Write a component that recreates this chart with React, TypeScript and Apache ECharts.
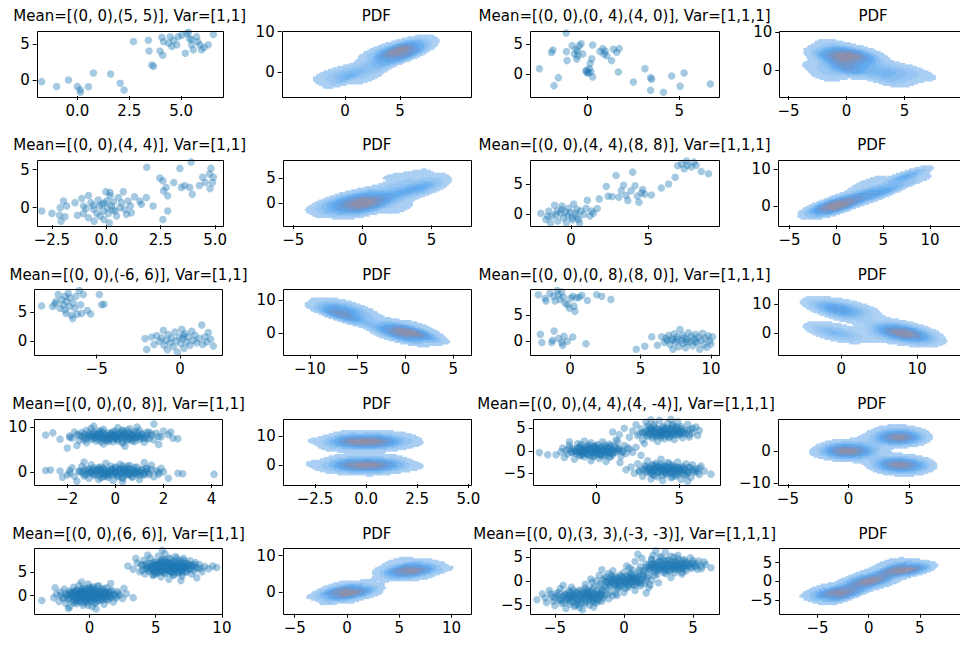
import React, { useEffect, useRef } from "react";
import * as echarts from "echarts";

// ---------------- titles ----------------
const titles = [
  "Mean=[(0, 0),(5, 5)], Var=[1,1]", "PDF", "Mean=[(0, 0),(0, 4),(4, 0)], Var=[1,1,1]", "PDF",
  "Mean=[(0, 0),(4, 4)], Var=[1,1]", "PDF", "Mean=[(0, 0),(4, 4),(8, 8)], Var=[1,1,1]", "PDF",
  "Mean=[(0, 0),(-6, 6)], Var=[1,1]", "PDF", "Mean=[(0, 0),(0, 8),(8, 0)], Var=[1,1,1]", "PDF",
  "Mean=[(0, 0),(0, 8)], Var=[1,1]", "PDF", "Mean=[(0, 0),(4, 4),(4, -4)], Var=[1,1,1]", "PDF",
  "Mean=[(0, 0),(6, 6)], Var=[1,1]", "PDF", "Mean=[(0, 0),(3, 3),(-3, -3)], Var=[1,1,1]", "PDF",
];

// ---------------- sample points ----------------
const r1c1Low = [[-1.72,-0.23],[-1.0,-0.9],[-0.43,0.0],[0.0,-0.9],[0.13,-1.35],[0.15,-1.7],[0.53,-0.93],[0.77,0.97],[1.6,0.83],[2.06,-0.46],[2.25,-1.4]];
const r1c1High = [[2.7,5.32],[3.42,5.5],[3.45,4.0],[3.58,2.07],[3.67,1.9],[4.07,5.9],[4.15,5.3],[3.98,4.0],[4.11,3.42],[4.47,5.97],[4.63,5.5],[4.79,4.86],[5.03,6.2],[5.27,6.4],[5.4,5.7],[5.5,4.86],[5.58,4.17],[5.2,3.7],[5.74,6.0],[5.9,4.86],[5.98,4.17],[6.3,4.86],[6.55,6.3],[4.86,6.0],[4.4,5.1],[4.55,4.63],[5.5,5.6],[5.8,5.3],[6.1,4.5],[5.35,6.6]];

const r1c3Points = [[-2.64,0.95],[-1.98,3.67],[-1.9,4.05],[-1.84,-1.89],[-1.6,-0.55],[-1.18,6.9],[-1.16,3.8],[-1.13,2.3],[-0.85,4.8],[-0.73,3.4],[-0.64,4.2],[-0.55,3.1],[-0.46,4.8],[-0.36,5.1],[-0.55,3.9],[-0.27,3.4],[-0.6,2.55],[-0.06,0.67],[-0.02,0.2],[0.09,0.95],[0.18,0.4],[0.27,-0.45],[0.13,1.8],[0.22,2.6],[0.27,4.9],[0.67,3.8],[0.82,4.3],[0.95,3.9],[1.04,3.1],[0.89,3.4],[1.3,2.3],[1.4,4.2],[1.58,3.7],[1.72,4.3],[1.67,0.4],[2.49,-1.3],[3.12,0.95],[3.43,-0.55],[3.49,-0.8],[3.43,-2.67],[4.13,-3.0],[4.58,-0.28],[5.04,-1.97],[5.26,0.22],[6.69,-1.6],[-0.1,0.5],[0.05,0.3]];

const r2c1Low = [[-2.97,-0.44],[-2.5,-0.75],[-2.15,-1.0],[-2.12,0],[-1.97,0.88],[-1.9,-1.2],[-2.08,-1.77],[-1.82,0.22],[-1.44,0.66],[-1.33,-1.0],[-1.13,1.19],[-1.05,0.22],[-1.05,-0.75],[-0.93,-0.1],[-0.82,-1.33],[-0.71,0.66],[-0.59,-0.22],[-0.56,-1.77],[-0.44,-0.75],[-0.37,1.0],[-0.32,0.22],[-0.29,-1.1],[-0.21,0.44],[-0.14,-0.44],[-0.11,-1.55],[-0.02,2.1],[0.02,0.88],[0.05,0],[0.09,-0.75],[0.14,-2.0],[0.17,1.55],[0.24,0.22],[0.32,0.75],[0.4,-0.44],[0.47,-1.1],[0.55,1.33],[0.62,0],[0.7,0.66],[0.78,2.1],[0.85,-0.22],[0.93,-0.88],[1.0,0.88],[1.11,0.22],[1.15,-0.66],[1.3,1.44],[1.54,0.88],[1.61,0.44],[1.84,1.33],[2.15,0.22],[2.6,-1.55],[-0.82,1.6],[0.17,2.0],[-0.6,0.3],[0.3,-0.3],[-0.1,0.6]];
const r2c1High = [[1.86,5.3],[2.6,3.54],[2.63,2.2],[2.75,2.66],[2.82,1.55],[2.82,-0.44],[3.1,3.3],[3.38,5.15],[3.45,2.66],[3.6,2.9],[3.83,2.66],[3.9,6.0],[3.95,1.77],[4.28,2.9],[4.43,4.0],[4.55,3.3],[4.74,4.4],[4.81,5.15],[4.88,3.3],[4.77,2.5],[4.92,4.0],[2.46,3.9]];

const r2c3A = [[-1.95,0.17],[-1.62,-0.83],[-1.32,-1.4],[-1.21,-0.28],[-1.06,1.5],[-0.89,0.55],[-0.85,-1.1],[-0.68,0.17],[-0.58,1.39],[-0.47,-0.56],[-0.36,0.39],[-0.3,-1.39],[-0.21,-0.17],[-0.15,1.0],[-0.04,0.28],[0.06,-0.55],[0.17,1.72],[0.28,0.17],[0.38,0.83],[0.49,-0.83],[0.55,-1.4],[0.64,0.55],[0.81,0.0],[0.98,1.0],[1.06,2.33],[1.23,-0.28],[1.34,0.55],[1.45,0.17],[1.7,0.95],[1.83,2.55],[-0.98,0.0],[-1.43,0.55],[0.38,-0.39],[-0.6,0.8],[0.1,-0.9],[-1.5,-0.3]];
const r2c3B = [[2.29,4.6],[2.4,3.0],[2.67,2.95],[2.92,6.4],[3.1,2.8],[3.25,3.9],[3.4,4.8],[3.57,3.1],[3.68,2.3],[3.89,3.9],[3.99,6.95],[4.15,4.7],[4.3,3.0],[4.4,2.0],[4.57,3.56],[4.65,4.1],[4.77,3.3],[5.2,3.2]];
const r2c3C = [[5.85,4.33],[6.32,5.0],[6.74,6.1],[6.9,8.0],[7.16,8.3],[7.33,7.5],[7.54,8.1],[7.79,7.8],[7.96,8.6],[8.1,8.1],[8.43,7.05],[8.9,6.7],[7.48,8.8]];

const r3c1Upper = [[-8.3,6.12],[-7.64,6.0],[-7.44,6.9],[-7.3,8.1],[-7.2,5.7],[-7.1,7.2],[-7.0,6.3],[-6.9,7.8],[-6.84,4.8],[-6.8,6.9],[-6.7,8.3],[-6.64,6.0],[-6.6,7.5],[-6.5,4.5],[-6.44,3.9],[-6.4,6.6],[-6.3,5.7],[-6.24,7.8],[-6.16,4.65],[-6.04,8.8],[-5.96,6.3],[-5.9,4.8],[-5.8,8.1],[-5.56,5.3],[-5.36,4.7],[-4.84,8.1],[-4.7,6.3],[-4.56,6.4],[-6.9,5.4],[-7.5,6.5]];
const r3c1Lower = [[-2.1,0.42],[-2.0,-1.46],[-1.7,0.7],[-1.56,-0.6],[-1.4,0.95],[-1.24,-0.06],[-1.1,0.53],[-1.0,1.85],[-0.96,-0.76],[-0.84,0.12],[-0.76,-1.53],[-0.7,1.12],[-0.6,-0.3],[-0.5,0.53],[-0.4,-1.0],[-0.3,1.58],[-0.24,0.0],[-0.16,-1.94],[-0.04,0.7],[0.04,-0.47],[0.1,2.06],[0.16,0.4],[0.24,-1.24],[0.3,1.3],[0.4,-0.18],[0.5,0.7],[0.6,-0.76],[0.7,1.7],[0.8,0.12],[0.9,1.0],[1.0,-0.3],[1.16,0.42],[1.3,2.8],[1.36,-0.6],[1.5,0.7],[1.7,1.47],[1.84,0.3],[2.0,-0.88],[1.6,-0.18],[0.2,0.9]];

const r3c3Upper = [[-2.25,8.9],[-1.77,8.2],[-1.7,7.7],[-1.42,9.2],[-1.18,8.6],[-1.06,7.7],[-0.9,9.7],[-0.83,8.9],[-0.71,8.0],[-0.59,9.4],[-0.47,8.4],[-0.35,7.3],[-0.19,7.0],[-0.05,6.3],[0.05,8.2],[0.19,8.6],[0.28,6.7],[0.35,5.7],[0.47,8.3],[0.66,8.4],[0.83,8.8],[1.23,7.8],[1.89,8.9],[2.25,8.6],[2.9,8.0]];
const r3c3LowLeft = [[-2.1,1.3],[-2.0,-0.3],[-1.3,-0.3],[-1.23,0.13],[-1.13,1.9],[-0.59,-0.3],[-0.52,-0.84],[-0.43,0.9],[-0.19,-0.07],[0.19,0.77],[1.13,-0.52],[-0.8,0.5]];
const r3c3LowRight = [[4.7,-1.6],[5.3,-1.0],[5.8,0.8],[6.2,-0.8],[6.5,0.8],[6.7,-0.3],[6.9,0.1],[7.0,1.1],[7.1,-0.7],[7.2,0.4],[7.3,-1.6],[7.4,1.4],[7.5,-0.2],[7.6,0.8],[7.7,-1.1],[7.8,2.2],[7.9,0.1],[8.0,1.1],[8.0,-0.5],[8.1,0.6],[8.2,-1.3],[8.3,0.3],[8.4,1.6],[8.5,-0.2],[8.6,0.9],[8.7,-0.9],[8.8,0.4],[8.9,1.3],[9.0,-0.4],[9.1,0.7],[9.2,-1.6],[9.3,0.2],[9.4,1.5],[9.5,-0.7],[9.6,0.5],[9.7,-1.2],[9.8,1.0],[9.9,0.0],[10.0,-0.6],[10.1,0.8],[7.6,0.3],[8.3,-0.2],[8.9,-0.1],[7.3,0.2],[6.8,0.5]];

const r4c1Top = [[-2.9,8.3],[-2.6,8.8],[-2.3,7.4],[-2.0,5.4],[-1.9,8.1],[-1.8,7.6],[-1.7,9.0],[-1.6,8.4],[-1.5,7.1],[-1.4,8.9],[-1.3,7.8],[-1.2,9.4],[-1.2,6.6],[-1.1,8.2],[-1.0,7.3],[-1.0,9.8],[-0.9,8.6],[-0.8,7.0],[-0.8,8.0],[-0.7,9.2],[-0.6,7.6],[-0.6,8.5],[-0.5,6.3],[-0.5,9.6],[-0.4,7.9],[-0.3,8.8],[-0.3,7.2],[-0.2,8.3],[-0.1,9.1],[-0.1,6.8],[0.0,7.7],[0.0,8.6],[0.1,10.0],[0.1,7.4],[0.2,8.1],[0.3,9.3],[0.3,6.5],[0.4,7.9],[0.5,8.7],[0.5,7.1],[0.6,9.7],[0.7,8.2],[0.7,7.5],[0.8,6.9],[0.9,8.9],[1.0,7.8],[1.0,9.4],[1.1,8.4],[1.2,6.7],[1.3,7.6],[1.4,9.0],[1.5,8.2],[1.6,10.8],[1.6,7.2],[1.7,8.7],[1.9,7.9],[2.0,9.2],[2.2,8.4],[2.4,7.6],[2.6,7.5],[2.3,9.0],[1.8,6.2],[-1.6,6.0],[0.4,5.8],[-0.9,10.3],[0.9,10.1]];
const r4c1TopCore = [[-1.4,8.0],[-1.3,8.5],[-1.2,7.5],[-1.1,8.8],[-1.0,8.1],[-0.9,7.7],[-0.9,9.0],[-0.8,8.4],[-0.7,7.3],[-0.7,8.7],[-0.6,8.0],[-0.5,7.6],[-0.5,8.9],[-0.4,8.3],[-0.4,7.1],[-0.3,7.9],[-0.2,8.6],[-0.2,7.4],[-0.1,8.1],[0.0,9.2],[0.0,7.9],[0.1,8.4],[0.1,7.0],[0.2,7.7],[0.2,8.9],[0.3,8.2],[0.4,7.4],[0.4,8.6],[0.5,8.0],[0.6,7.6],[0.6,8.8],[0.7,8.3],[0.8,7.8],[0.8,9.1],[0.9,8.0],[1.0,7.3],[1.1,8.6],[1.2,7.9],[1.3,8.3],[1.4,7.5],[-1.5,8.3],[1.5,8.6],[-0.6,6.8],[0.5,9.4],[-0.1,7.5],[0.3,6.8]];
const r4c1TopCore2 = [[-1.15,8.2],[-1.05,7.9],[-0.95,8.5],[-0.85,7.6],[-0.75,8.1],[-0.65,8.6],[-0.55,7.8],[-0.45,8.4],[-0.35,7.5],[-0.25,8.0],[-0.15,8.7],[-0.05,8.2],[0.05,7.6],[0.15,8.5],[0.25,7.9],[0.35,8.8],[0.45,8.2],[0.55,7.4],[0.65,8.0],[0.75,8.6],[0.85,7.7],[0.95,8.3],[1.05,8.0],[1.15,7.6],[-0.6,9.2],[0.3,9.4],[-0.3,6.9],[0.7,7.0],[-1.3,7.2],[1.3,8.9],[1.8,8.0],[-1.9,7.8]];
const r4c1Bottom = [[-2.9,0.4],[-2.7,0.5],[-2.3,0.3],[-2.0,-0.6],[-1.9,0.4],[-1.8,1.0],[-1.7,-0.9],[-1.6,-2.0],[-1.5,0.2],[-1.4,1.3],[-1.3,-0.4],[-1.2,0.7],[-1.1,-1.3],[-1.0,0.1],[-1.0,1.7],[-0.9,-0.7],[-0.8,0.5],[-0.7,-1.6],[-0.7,1.1],[-0.6,-0.2],[-0.5,0.8],[-0.5,-1.0],[-0.4,2.0],[-0.3,0.3],[-0.3,-0.5],[-0.2,1.4],[-0.1,-1.8],[-0.1,0.6],[0.0,-0.1],[0.0,1.0],[0.1,-0.8],[0.2,0.4],[0.2,1.8],[0.3,-1.3],[0.4,0.0],[0.5,0.9],[0.5,-0.4],[0.6,1.5],[0.7,-1.1],[0.8,0.3],[0.9,-0.2],[0.9,1.2],[1.0,-1.6],[1.1,0.6],[1.2,-0.6],[1.3,0.9],[1.4,-0.1],[1.5,1.6],[1.6,-1.0],[1.7,0.4],[1.8,-0.4],[1.9,0.9],[2.0,0.1],[2.6,-0.2],[2.8,-0.3],[4.1,-0.4],[1.2,2.2],[-1.3,2.3],[0.3,-2.1],[-2.2,-1.1],[2.2,-1.3]];
const r4c1BottomCore = [[-1.4,0.0],[-1.3,0.5],[-1.2,-0.5],[-1.1,0.8],[-1.0,0.1],[-0.9,-0.3],[-0.9,1.0],[-0.8,0.4],[-0.7,-0.7],[-0.7,0.7],[-0.6,0.0],[-0.5,-0.4],[-0.5,0.9],[-0.4,0.3],[-0.4,-0.9],[-0.3,-0.1],[-0.2,0.6],[-0.2,-0.6],[-0.1,0.1],[0.0,1.2],[0.0,-0.1],[0.1,0.4],[0.1,-1.0],[0.2,-0.3],[0.2,0.9],[0.3,0.2],[0.4,-0.6],[0.4,0.6],[0.5,0.0],[0.6,-0.4],[0.6,0.8],[0.7,0.3],[0.8,-0.2],[0.8,1.1],[0.9,0.0],[1.0,-0.7],[1.1,0.6],[1.2,-0.1],[1.3,0.3],[1.4,-0.5],[-1.5,0.3],[1.5,0.6],[-0.6,-1.2],[0.5,1.4],[-0.1,-0.5],[0.3,-1.2]];
const r4c1BottomCore2 = [[-1.15,0.2],[-1.05,-0.1],[-0.95,0.5],[-0.85,-0.4],[-0.75,0.1],[-0.65,0.6],[-0.55,-0.2],[-0.45,0.4],[-0.35,-0.5],[-0.25,0.0],[-0.15,0.7],[-0.05,0.2],[0.05,-0.4],[0.15,0.5],[0.25,-0.1],[0.35,0.8],[0.45,0.2],[0.55,-0.6],[0.65,0.0],[0.75,0.6],[0.85,-0.3],[0.95,0.3],[1.05,0.0],[1.15,-0.4],[-0.6,1.2],[0.3,1.4],[-0.3,-1.1],[0.7,-1.0],[-1.3,-0.8],[1.3,0.9],[1.8,0.0],[-1.9,-0.2]];

const r4c3Center = [[-3.4,-0.4],[-2.9,-0.9],[-2.4,-0.9],[-2.1,-0.2],[-2.0,0.6],[-1.9,-1.5],[-1.8,0.1],[-1.7,-0.7],[-1.6,1.2],[-1.5,-0.3],[-1.4,0.5],[-1.3,-1.9],[-1.2,-0.1],[-1.1,1.6],[-1.0,-1.1],[-1.0,0.8],[-0.9,-0.5],[-0.8,0.3],[-0.7,2.2],[-0.7,-1.4],[-0.6,0.0],[-0.5,1.1],[-0.5,-0.8],[-0.4,0.5],[-0.3,-2.2],[-0.3,1.8],[-0.2,-0.3],[-0.1,0.9],[-0.1,-1.2],[0.0,0.2],[0.1,-0.6],[0.1,1.4],[0.2,-1.7],[0.3,0.6],[0.4,-0.1],[0.4,2.0],[0.5,-1.0],[0.6,0.9],[0.7,-0.4],[0.8,1.5],[0.8,-1.5],[0.9,0.3],[1.0,-0.8],[1.1,1.0],[1.2,-0.2],[1.3,2.1],[1.4,0.5],[1.5,-1.2],[1.6,0.0],[1.7,1.2],[1.8,-0.6],[2.0,0.4],[2.2,-0.3],[2.4,0.8],[1.2,2.4],[1.44,-2.6],[-1.6,2.0],[0.6,-2.4]];
const r4c3CenterCore = [[-1.3,0.1],[-1.2,-0.6],[-1.1,0.6],[-1.0,-0.2],[-0.9,0.9],[-0.8,-0.8],[-0.8,0.2],[-0.7,0.6],[-0.6,-0.4],[-0.5,0.3],[-0.4,-1.0],[-0.4,0.8],[-0.3,-0.1],[-0.2,0.5],[-0.1,-0.7],[0.0,0.0],[0.0,1.1],[0.1,-0.4],[0.2,0.3],[0.3,-0.9],[0.3,0.8],[0.4,0.1],[0.5,-0.5],[0.6,0.5],[0.7,-0.1],[0.8,0.9],[0.9,-0.6],[1.0,0.2],[1.1,-0.3],[1.2,0.7],[-1.4,-0.3],[1.4,0.0],[-0.2,-1.3],[0.5,1.3],[-0.9,1.4],[0.9,-1.2]];
const r4c3CenterCore2 = [[-1.0,0.3],[-0.8,-0.3],[-0.6,0.6],[-0.5,-0.7],[-0.3,0.2],[-0.2,-0.4],[0.0,0.6],[0.1,-0.1],[0.2,-0.8],[0.4,0.4],[0.5,0.0],[0.7,0.6],[0.8,-0.4],[1.0,0.0],[-1.2,-0.2],[1.3,0.4],[-0.1,1.0],[0.3,-1.1],[-0.7,-0.1],[0.6,-0.9],[1.6,-0.3],[-1.6,0.5],[1.9,0.7],[-0.4,1.3],[0.9,1.2],[-0.9,-1.0]];
const r4c3Up = [[1.0,4.2],[1.4,3.6],[1.7,5.0],[2.0,3.0],[2.2,4.4],[2.4,5.8],[2.5,3.4],[2.7,4.9],[2.8,2.4],[2.9,4.0],[3.0,6.4],[3.1,3.2],[3.2,5.3],[3.3,4.3],[3.4,2.8],[3.5,5.9],[3.5,3.7],[3.6,4.8],[3.7,2.1],[3.8,4.1],[3.8,6.8],[3.9,3.4],[4.0,5.2],[4.0,4.5],[4.1,2.7],[4.2,3.9],[4.3,6.1],[4.3,5.0],[4.4,3.2],[4.5,4.4],[4.6,5.6],[4.7,2.5],[4.7,3.8],[4.8,4.9],[4.9,6.5],[5.0,3.5],[5.0,4.2],[5.1,5.4],[5.2,2.9],[5.3,4.6],[5.4,3.8],[5.5,5.9],[5.6,3.1],[5.7,4.8],[5.8,4.0],[6.0,5.3],[6.1,3.4],[6.2,4.5],[4.5,7.0],[3.3,6.9],[2.9,1.6]];
const r4c3UpCore = [[2.8,4.1],[3.0,3.5],[3.1,4.6],[3.2,3.9],[3.3,5.0],[3.4,3.3],[3.5,4.4],[3.6,3.8],[3.7,4.9],[3.8,3.5],[3.9,4.3],[4.0,3.9],[4.0,5.5],[4.1,4.8],[4.2,3.4],[4.3,4.1],[4.4,4.7],[4.5,3.7],[4.6,4.2],[4.7,5.2],[4.8,3.6],[4.9,4.5],[5.0,4.0],[5.1,4.9],[5.2,3.8],[3.5,5.5],[4.4,2.9],[3.9,3.0],[4.6,5.8],[3.1,5.6]];
const r4c3UpCore2 = [[3.0,4.2],[3.2,3.6],[3.4,4.5],[3.5,4.0],[3.7,3.6],[3.8,4.6],[3.9,4.1],[4.0,3.5],[4.1,4.4],[4.2,5.0],[4.3,3.8],[4.4,4.3],[4.5,4.9],[4.6,3.5],[4.7,4.0],[4.8,4.6],[5.0,3.8],[5.1,4.4],[5.3,4.1],[5.5,4.6],[5.6,3.6],[3.3,4.8],[4.9,5.3],[3.6,3.2],[2.6,3.8],[5.8,5.0]];
const r4c3Down = [[1.8,-4.2],[2.1,-3.6],[2.3,-5.0],[2.5,-2.9],[2.6,-4.4],[2.8,-5.7],[2.9,-3.3],[3.0,-4.8],[3.1,-2.2],[3.2,-4.0],[3.3,-6.3],[3.4,-3.1],[3.4,-5.3],[3.5,-4.3],[3.6,-2.7],[3.7,-5.8],[3.7,-3.7],[3.8,-4.8],[3.9,-1.9],[4.0,-4.1],[4.0,-6.6],[4.1,-3.4],[4.2,-5.2],[4.2,-4.5],[4.3,-2.6],[4.4,-3.9],[4.5,-6.0],[4.5,-5.0],[4.6,-3.2],[4.7,-4.4],[4.8,-5.6],[4.9,-2.5],[4.9,-3.8],[5.0,-4.9],[5.1,-6.4],[5.2,-3.5],[5.2,-4.2],[5.3,-5.4],[5.4,-2.9],[5.5,-4.6],[5.6,-3.8],[5.7,-5.9],[5.8,-3.1],[5.9,-4.8],[6.0,-4.0],[6.2,-5.3],[6.3,-3.4],[6.5,-4.5],[6.9,-5.2],[5.5,-6.8],[2.7,-1.0]];
const r4c3DownCore = [[2.8,-4.1],[3.0,-3.5],[3.1,-4.6],[3.2,-3.9],[3.3,-5.0],[3.4,-3.3],[3.5,-4.4],[3.6,-3.8],[3.7,-4.9],[3.8,-3.5],[3.9,-4.3],[4.0,-3.9],[4.0,-5.5],[4.1,-4.8],[4.2,-3.4],[4.3,-4.1],[4.4,-4.7],[4.5,-3.7],[4.6,-4.2],[4.7,-5.2],[4.8,-3.6],[4.9,-4.5],[5.0,-4.0],[5.1,-4.9],[5.2,-3.8],[3.5,-5.5],[4.4,-2.9],[3.9,-3.0],[4.6,-5.8],[5.5,-5.0],[5.8,-4.3],[6.1,-4.7]];
const r4c3DownCore2 = [[3.0,-4.2],[3.2,-3.6],[3.4,-4.5],[3.5,-4.0],[3.7,-3.6],[3.8,-4.6],[3.9,-4.1],[4.0,-3.5],[4.1,-4.4],[4.2,-5.0],[4.3,-3.8],[4.4,-4.3],[4.5,-4.9],[4.6,-3.5],[4.7,-4.0],[4.8,-4.6],[5.0,-3.8],[5.1,-4.4],[5.3,-4.1],[5.5,-4.6],[5.6,-3.6],[3.3,-4.8],[4.9,-5.3],[3.6,-3.2],[5.9,-4.4],[6.2,-3.9],[5.4,-5.4],[2.6,-4.6]];

const r5c1Origin = [[-3.6,-1.0],[-2.7,-0.4],[-2.5,0.3],[-2.3,-1.2],[-2.2,0.8],[-2.0,-0.3],[-1.9,1.4],[-1.8,-1.6],[-1.7,0.2],[-1.6,-0.8],[-1.5,1.0],[-1.5,-2.4],[-1.4,0.5],[-1.3,-1.1],[-1.2,1.8],[-1.2,-0.1],[-1.1,0.7],[-1.0,-1.7],[-1.0,1.2],[-0.9,-0.5],[-0.8,0.3],[-0.8,2.2],[-0.7,-1.3],[-0.6,0.9],[-0.6,-0.2],[-0.5,1.6],[-0.5,-2.0],[-0.4,0.4],[-0.3,-0.8],[-0.3,1.2],[-0.2,-1.5],[-0.2,0.1],[-0.1,2.5],[-0.1,-0.4],[0.0,0.8],[0.0,-1.1],[0.1,1.5],[0.1,-0.1],[0.2,0.5],[0.2,-2.3],[0.3,-0.7],[0.3,1.9],[0.4,0.2],[0.5,-1.4],[0.5,1.0],[0.6,-0.3],[0.7,0.6],[0.7,2.1],[0.8,-1.0],[0.9,0.3],[0.9,1.4],[1.0,-0.5],[1.1,-1.8],[1.1,0.9],[1.2,0.0],[1.3,1.7],[1.4,-0.9],[1.5,0.5],[1.6,-0.2],[1.7,1.1],[1.8,-1.3],[1.9,0.3],[2.0,-0.5],[2.1,0.9],[2.3,0.1],[2.5,-0.6],[2.8,0.4],[3.3,-0.4],[2.6,1.6],[-2.6,1.7],[1.6,2.6],[-1.6,-2.7],[0.5,-2.8],[-0.6,2.9]];
const r5c1OriginCore = [[-1.6,0.2],[-1.5,-0.5],[-1.4,0.8],[-1.3,-0.1],[-1.2,0.5],[-1.1,-0.9],[-1.0,0.2],[-1.0,1.0],[-0.9,-0.4],[-0.8,0.6],[-0.8,-1.1],[-0.7,0.1],[-0.6,1.3],[-0.6,-0.6],[-0.5,0.4],[-0.4,-0.2],[-0.4,1.0],[-0.3,-1.2],[-0.2,0.3],[-0.1,-0.6],[-0.1,0.9],[0.0,0.0],[0.1,-0.9],[0.1,0.6],[0.2,-0.3],[0.3,1.2],[0.3,0.1],[0.4,-0.5],[0.5,0.7],[0.6,-1.0],[0.6,0.2],[0.7,-0.2],[0.8,0.9],[0.9,-0.6],[1.0,0.4],[1.1,-0.1],[1.2,0.8],[1.3,-0.8],[1.4,0.1],[1.5,0.6],[1.6,-0.4],[-1.8,0.5],[1.8,0.2],[-0.3,1.6],[0.4,-1.6],[-1.2,-1.5],[1.1,1.5],[-2.0,-0.6],[2.0,-0.1],[0.0,1.8],[-0.7,0.8],[0.5,-0.1],[-0.2,-0.2],[0.9,0.1]];
const r5c1OriginCore2 = [[-1.4,0.4],[-1.2,-0.3],[-1.1,0.9],[-0.9,0.0],[-0.8,-0.7],[-0.7,0.5],[-0.6,1.0],[-0.5,-0.3],[-0.4,0.6],[-0.3,-0.9],[-0.2,0.1],[-0.1,1.2],[0.0,-0.4],[0.1,0.3],[0.2,-1.1],[0.3,0.7],[0.4,-0.1],[0.5,1.1],[0.6,-0.6],[0.7,0.4],[0.8,-0.1],[0.9,0.8],[1.0,-0.9],[1.1,0.3],[1.2,-0.4],[1.3,0.6],[1.5,-0.1],[-1.7,-0.2],[-1.0,-1.2],[0.2,1.6],[-0.5,-1.5],[1.6,1.0],[-2.2,0.1],[2.2,0.5],[-0.1,-2.0],[0.6,2.0]];
const r5c1Far = [[2.9,6.3],[3.3,5.6],[3.6,6.9],[3.8,5.1],[4.0,6.4],[4.1,7.5],[4.2,4.6],[4.3,5.8],[4.4,6.9],[4.5,5.2],[4.6,7.9],[4.7,6.1],[4.8,4.3],[4.8,5.6],[4.9,7.2],[5.0,6.5],[5.1,4.9],[5.2,8.4],[5.2,5.9],[5.3,6.8],[5.4,4.0],[5.4,5.3],[5.5,7.5],[5.6,6.2],[5.7,4.7],[5.7,8.9],[5.8,5.7],[5.9,6.9],[6.0,3.5],[6.0,6.3],[6.1,5.1],[6.1,7.8],[6.2,5.9],[6.3,4.4],[6.3,7.0],[6.4,6.5],[6.5,5.4],[6.5,8.3],[6.6,6.1],[6.7,4.8],[6.8,7.4],[6.8,5.8],[6.9,6.7],[7.0,4.2],[7.0,5.3],[7.1,7.9],[7.2,6.2],[7.3,5.0],[7.4,6.9],[7.5,5.6],[7.6,7.4],[7.7,4.6],[7.8,6.3],[7.9,5.3],[8.0,7.0],[8.2,5.8],[8.3,6.6],[8.5,5.1],[8.7,6.2],[9.0,5.7],[9.3,6.3],[9.6,6.0],[5.5,9.6],[4.4,8.6],[6.9,3.2],[8.1,3.8],[3.5,7.9]];
const r5c1FarCore = [[4.4,6.2],[4.5,5.5],[4.6,6.8],[4.7,5.9],[4.8,6.5],[4.9,5.1],[5.0,6.2],[5.0,7.0],[5.1,5.6],[5.2,6.6],[5.2,4.9],[5.3,6.1],[5.4,7.3],[5.4,5.4],[5.5,6.4],[5.6,5.8],[5.6,7.0],[5.7,4.8],[5.8,6.3],[5.9,5.4],[5.9,6.9],[6.0,6.0],[6.1,5.1],[6.1,6.6],[6.2,5.7],[6.3,7.2],[6.3,6.1],[6.4,5.5],[6.5,6.7],[6.6,5.0],[6.6,6.2],[6.7,5.8],[6.8,6.9],[6.9,5.4],[7.0,6.4],[7.1,5.9],[7.2,6.8],[7.3,5.2],[7.4,6.1],[7.5,6.6],[7.6,5.6],[4.2,6.5],[7.8,6.2],[5.7,7.6],[6.4,4.4],[4.8,4.5],[7.1,7.5],[4.0,5.4],[8.0,5.9],[6.0,8.0],[5.3,6.6],[6.5,5.9],[5.8,5.9],[6.9,6.1]];
const r5c1FarCore2 = [[4.6,6.0],[4.8,5.3],[4.9,6.7],[5.1,6.0],[5.2,5.3],[5.3,7.0],[5.4,6.2],[5.5,5.0],[5.6,6.6],[5.7,5.5],[5.8,7.2],[5.9,6.1],[6.0,5.4],[6.1,6.8],[6.2,5.0],[6.3,6.4],[6.4,5.8],[6.5,7.3],[6.6,5.6],[6.7,6.5],[6.8,5.1],[6.9,6.2],[7.0,7.0],[7.1,5.6],[7.2,6.4],[7.4,5.9],[7.6,6.5],[4.3,5.7],[5.0,4.6],[6.3,4.9],[5.5,7.8],[7.0,4.8],[7.9,6.6],[3.9,6.6],[6.6,7.9],[8.4,5.8]];

const r5c3Low = [[-6.3,-3.8],[-5.9,-2.6],[-5.6,-4.4],[-5.4,-1.9],[-5.2,-3.2],[-5.0,-5.0],[-4.9,-2.5],[-4.7,-3.8],[-4.6,-1.5],[-4.5,-4.6],[-4.3,-2.9],[-4.2,-5.6],[-4.1,-3.4],[-4.0,-2.0],[-3.9,-4.1],[-3.8,-1.2],[-3.7,-3.0],[-3.6,-5.2],[-3.5,-2.4],[-3.4,-3.7],[-3.3,-4.8],[-3.2,-1.8],[-3.1,-3.1],[-3.0,-5.9],[-3.0,-2.6],[-2.9,-4.3],[-2.8,-1.4],[-2.7,-3.5],[-2.6,-2.2],[-2.5,-4.9],[-2.4,-3.0],[-2.3,-1.6],[-2.2,-3.9],[-2.1,-2.6],[-2.0,-4.5],[-1.9,-1.9],[-1.8,-3.3],[-1.7,-2.4],[-1.6,-4.1],[-1.4,-2.9],[-1.3,-1.3],[-1.1,-3.6],[-1.0,-2.2],[-0.8,-3.0],[-0.6,-2.5],[-5.7,-3.4],[-4.4,-0.8],[-2.2,-5.3],[-5.1,-4.1]];
const r5c3LowCore = [[-4.4,-3.2],[-4.2,-2.6],[-4.1,-3.8],[-4.0,-3.0],[-3.9,-2.3],[-3.8,-3.5],[-3.7,-4.2],[-3.6,-2.8],[-3.5,-3.3],[-3.4,-2.1],[-3.3,-3.9],[-3.2,-2.9],[-3.1,-4.5],[-3.0,-3.4],[-2.9,-2.4],[-2.8,-3.1],[-2.7,-4.0],[-2.6,-2.7],[-2.5,-3.6],[-2.4,-2.2],[-2.3,-3.2],[-2.2,-4.3],[-2.1,-2.8],[-2.0,-3.5],[-1.9,-2.5],[-1.8,-3.9],[-1.7,-3.0],[-1.6,-2.0],[-4.6,-3.7],[-4.8,-2.9],[-3.5,-4.9],[-2.6,-1.8],[-1.5,-3.4],[-5.0,-3.4],[-4.3,-4.4],[-3.0,-2.0]];
const r5c3LowCore2 = [[-4.3,-2.8],[-4.0,-3.6],[-3.8,-2.6],[-3.6,-3.4],[-3.4,-4.4],[-3.3,-2.5],[-3.1,-3.6],[-2.9,-2.9],[-2.8,-4.6],[-2.7,-2.1],[-2.5,-3.1],[-2.3,-2.6],[-2.2,-3.6],[-2.0,-2.9],[-1.9,-4.0],[-3.7,-1.8],[-4.5,-4.0],[-3.9,-4.7],[-2.4,-4.0],[-1.6,-2.7],[-5.3,-2.6],[-4.7,-2.3],[-3.2,-5.4],[-1.2,-2.6]];
const r5c3Mid = [[-2.8,-0.6],[-2.4,0.5],[-2.2,-1.2],[-2.0,0.1],[-1.8,1.2],[-1.7,-0.5],[-1.5,-1.8],[-1.4,0.6],[-1.3,-0.2],[-1.1,1.6],[-1.0,-1.0],[-0.9,0.3],[-0.8,2.2],[-0.7,-0.6],[-0.6,0.9],[-0.5,-1.6],[-0.4,0.0],[-0.3,1.3],[-0.2,-0.9],[-0.1,0.5],[0.0,-2.3],[0.0,1.9],[0.1,-0.3],[0.2,0.8],[0.3,-1.2],[0.4,0.2],[0.5,1.5],[0.6,-0.7],[0.7,0.6],[0.8,-1.9],[0.9,1.1],[1.0,-0.1],[1.1,2.3],[1.2,-0.9],[1.3,0.4],[1.4,1.4],[1.5,-0.4],[1.7,0.8],[1.8,-1.3],[2.0,0.2],[2.2,1.2],[2.5,-0.3],[-1.6,2.4],[1.6,-2.4],[-0.5,-2.9],[0.4,2.8]];
const r5c3MidCore = [[-1.2,0.0],[-1.1,-0.6],[-1.0,0.6],[-0.9,-0.2],[-0.8,0.9],[-0.7,-0.9],[-0.6,0.3],[-0.5,-0.4],[-0.4,0.7],[-0.3,-0.1],[-0.2,1.0],[-0.1,-0.7],[0.0,0.3],[0.1,-0.3],[0.2,1.2],[0.3,-0.9],[0.4,0.6],[0.5,-0.2],[0.6,0.9],[0.7,-0.6],[0.8,0.3],[0.9,-0.1],[1.0,1.0],[1.1,0.2],[1.2,-0.5],[-1.4,-1.1],[1.4,0.9],[-0.4,-1.4],[0.5,1.7],[-1.3,1.0]];
const r5c3MidCore2 = [[-1.0,-0.3],[-0.8,0.4],[-0.6,-0.7],[-0.4,0.2],[-0.3,-1.0],[-0.1,0.8],[0.0,-0.2],[0.2,0.4],[0.3,-0.6],[0.5,1.0],[0.6,0.0],[0.8,-0.8],[0.9,0.7],[1.1,-0.2],[1.3,1.1],[-1.5,0.3],[-1.8,-0.9],[1.6,0.1],[-0.9,1.3],[0.1,-1.5],[1.9,-0.7],[-2.3,-0.2]];
const r5c3High = [[0.2,3.2],[0.6,2.4],[0.8,4.1],[1.0,1.7],[1.2,3.0],[1.3,4.8],[1.5,2.2],[1.6,3.6],[1.8,1.2],[1.9,2.8],[2.0,4.4],[2.1,5.4],[2.2,2.0],[2.3,3.3],[2.4,1.4],[2.5,4.0],[2.6,2.6],[2.7,5.0],[2.8,3.6],[2.9,1.9],[3.0,3.0],[3.0,6.0],[3.1,4.3],[3.2,2.3],[3.3,3.6],[3.4,0.8],[3.4,5.2],[3.5,2.8],[3.6,4.0],[3.7,1.8],[3.8,3.3],[3.9,4.7],[4.0,2.5],[4.1,3.7],[4.2,1.5],[4.3,3.0],[4.4,4.3],[4.5,2.2],[4.6,3.4],[4.8,4.9],[4.9,2.7],[5.0,3.8],[5.2,3.1],[5.4,4.2],[5.6,2.6],[5.9,3.5],[6.3,2.8],[2.3,6.3],[1.0,5.6],[0.6,0.4]];
const r5c3HighCore = [[1.6,2.9],[1.8,3.4],[1.9,2.4],[2.0,3.1],[2.1,3.8],[2.2,2.6],[2.3,3.5],[2.4,2.2],[2.5,3.0],[2.6,4.1],[2.7,2.7],[2.8,3.3],[2.9,2.3],[3.0,3.8],[3.1,2.8],[3.2,4.4],[3.3,3.1],[3.4,2.4],[3.5,3.5],[3.6,2.9],[3.7,4.0],[3.8,2.6],[3.9,3.4],[4.0,3.0],[4.1,4.2],[4.2,2.7],[4.3,3.6],[4.4,3.1],[4.5,3.9],[4.7,3.3],[4.9,3.7],[5.1,3.2],[2.0,4.6],[3.0,1.6],[3.6,5.0],[5.3,2.5]];
const r5c3HighCore2 = [[1.8,2.6],[2.0,3.6],[2.2,2.9],[2.4,3.9],[2.5,2.4],[2.7,3.4],[2.9,4.4],[3.0,2.6],[3.2,3.4],[3.3,2.1],[3.4,4.0],[3.6,3.2],[3.7,2.4],[3.8,3.9],[4.0,2.8],[4.1,3.5],[4.3,4.5],[4.4,2.6],[4.6,3.7],[4.8,2.9],[5.0,4.3],[5.3,3.6],[5.6,3.1],[2.6,5.1],[3.9,5.4],[1.4,2.2],[4.2,1.9],[5.8,4.0]];

// one entry per scatter panel (row by row)
const scatterPoints: number[][][] = [
  [...r1c1Low, ...r1c1High],
  r1c3Points,
  [...r2c1Low, ...r2c1High],
  [...r2c3A, ...r2c3B, ...r2c3C],
  [...r3c1Upper, ...r3c1Lower],
  [...r3c3Upper, ...r3c3LowLeft, ...r3c3LowRight],
  [...r4c1Top, ...r4c1TopCore, ...r4c1TopCore2, ...r4c1Bottom, ...r4c1BottomCore, ...r4c1BottomCore2],
  [...r4c3Center, ...r4c3CenterCore, ...r4c3CenterCore2, ...r4c3Up, ...r4c3UpCore, ...r4c3UpCore2, ...r4c3Down, ...r4c3DownCore, ...r4c3DownCore2],
  [...r5c1Origin, ...r5c1OriginCore, ...r5c1OriginCore2, ...r5c1Far, ...r5c1FarCore, ...r5c1FarCore2],
  [...r5c3Low, ...r5c3LowCore, ...r5c3LowCore2, ...r5c3Mid, ...r5c3MidCore, ...r5c3MidCore2, ...r5c3High, ...r5c3HighCore, ...r5c3HighCore2],
];
// estimated size of the original samples (sets the KDE bandwidth, Scott's rule)
const kdeSampleSizes = [45, 50, 100, 100, 100, 100, 900, 700, 2500, 1800];

// ---------------- axes ----------------
const xLimits = [
  [-1.96, 7.0], [-5.75, 11.45], [-3.15, 7.18], [-5.8, 9.8],
  [-3.2, 5.35], [-5.77, 7.85], [-2.65, 9.6], [-6.27, 13.2],
  [-8.74, 2.56], [-12.85, 6.87], [-2.84, 10.59], [-8.3, 15.65],
  [-3.37, 4.46], [-4.08, 5.13], [-3.8, 7.4], [-5.84, 9.2],
  [-4.17, 10.06], [-6.15, 11.87], [-6.8, 6.9], [-8.74, 8.92],
];
const yLimits = [
  [-2.22, 6.85], [-5.76, 10.25], [-3.62, 7.33], [-7.0, 10.5],
  [-2.3, 6.29], [-4.34, 8.6], [-1.78, 9.0], [-5.18, 12.45],
  [-2.35, 9.06], [-6.4, 13.3], [-2.6, 10.0], [-7.2, 15.0],
  [-2.6, 12.0], [-6.5, 15.9], [-7.4, 7.2], [-10.2, 9.9],
  [-3.8, 10.06], [-5.76, 12.0], [-6.7, 6.86], [-8.75, 8.86],
];
const xTicks = [
  [0, 2.5, 5], [0, 5], [0, 5], [-5, 0, 5],
  [-2.5, 0, 2.5, 5], [-5, 0, 5], [0, 5], [-5, 0, 5, 10],
  [-5, 0], [-10, -5, 0, 5], [0, 5, 10], [0, 10],
  [-2, 0, 2, 4], [-2.5, 0, 2.5, 5], [0, 5], [-5, 0, 5],
  [0, 5, 10], [-5, 0, 5, 10], [-5, 0, 5], [-5, 0, 5],
];
const yTicks = [
  [0, 5], [0, 10], [0, 5], [0, 10],
  [0, 5], [0, 5], [0, 5], [0, 10],
  [0, 5], [0, 10], [0, 5], [0, 10],
  [0, 10], [0, 10], [-5, 0, 5], [-10, 0],
  [0, 5], [0, 10], [-5, 0, 5], [-5, 0, 5],
];

// ---------------- layout (pixels) ----------------
const rowTops = [30.5, 159.7, 289, 418.5, 548.2];
const panelHeight = 65.5;
const colBoxes = [
  [[36.7, 186], [281.7, 189.3], [530, 189.3], [779.3, 187.4]],
  [[36.7, 186], [282.7, 188.3], [530, 189.3], [777.7, 188.3]],
  [[34.3, 188.4], [282.7, 188.3], [530, 189.3], [778.3, 188]],
  [[34.3, 188.4], [282.7, 188.3], [532.7, 186.6], [777.7, 188.3]],
  [[34.3, 188.4], [282.7, 188.3], [530, 189.3], [779.3, 187.4]],
];

const FONT = "DejaVu Sans";
const POINT_COLOR = "rgba(31,119,180,0.5)";
const COLOR_STOPS: [number, number[]][] = [
  [0, [180, 212, 243]],
  [0.2, [142, 193, 242]],
  [0.45, [92, 168, 238]],
  [0.72, [110, 150, 205]],
  [1, [150, 142, 160]],
];

function colorAt(t: number): string {
  const v = Math.max(0, Math.min(1, t));
  for (let k = 0; k < COLOR_STOPS.length - 1; k++) {
    const [t0, c0] = COLOR_STOPS[k];
    const [t1, c1] = COLOR_STOPS[k + 1];
    if (v <= t1) {
      const f = (v - t0) / (t1 - t0);
      const c = c0.map((u, i) => Math.round(u + (c1[i] - u) * f));
      return `rgb(${c[0]},${c[1]},${c[2]})`;
    }
  }
  const c = COLOR_STOPS[COLOR_STOPS.length - 1][1];
  return `rgb(${c[0]},${c[1]},${c[2]})`;
}

// Gaussian KDE (Scott bandwidth) + seaborn-style iso-proportion levels
function kdeCells(points: number[][], xr: number[], yr: number[], nOrig: number, nx: number, ny: number) {
  const n = points.length;
  let mx = 0, my = 0;
  for (const p of points) { mx += p[0]; my += p[1]; }
  mx /= n; my /= n;
  let sxx = 0, syy = 0, sxy = 0;
  for (const p of points) {
    const dx = p[0] - mx, dy = p[1] - my;
    sxx += dx * dx; syy += dy * dy; sxy += dx * dy;
  }
  sxx /= n - 1; syy /= n - 1; sxy /= n - 1;
  const f2 = Math.pow(nOrig, -1 / 3);
  const a = sxx * f2, b = sxy * f2, d = syy * f2;
  const det = a * d - b * b;
  const ia = d / det, ib = -b / det, id = a / det;
  const cw = (xr[1] - xr[0]) / nx, ch = (yr[1] - yr[0]) / ny;
  const dens = new Float64Array(nx * ny);
  for (let j = 0; j < ny; j++) {
    for (let i = 0; i < nx; i++) {
      const cx = xr[0] + (i + 0.5) * cw, cy = yr[0] + (j + 0.5) * ch;
      let s = 0;
      for (const p of points) {
        const dx = cx - p[0], dy = cy - p[1];
        s += Math.exp(-0.5 * (ia * dx * dx + 2 * ib * dx * dy + id * dy * dy));
      }
      dens[j * nx + i] = s;
    }
  }
  const sorted = Array.from(dens).sort((u, v) => v - u);
  const total = sorted.reduce((acc, v) => acc + v, 0);
  const cum = new Float64Array(sorted.length);
  let c = 0;
  for (let k = 0; k < sorted.length; k++) { c += sorted[k]; cum[k] = c / total; }
  const levels: number[] = [];
  for (let q = 0; q < 10; q++) {
    const iso = 0.05 + (q * 0.95) / 9;
    const target = 1 - iso;
    let idx = 0;
    while (idx < cum.length && cum[idx] < target) idx++;
    levels.push(sorted[Math.min(idx, sorted.length - 1)]);
  }
  const L0 = levels[0], L9 = levels[9];
  const cells: number[][] = [];
  for (let j = 0; j < ny; j++) {
    for (let i = 0; i < nx; i++) {
      const v = dens[j * nx + i];
      if (v < L0) continue;
      let k = 0;
      while (k < 8 && v >= levels[k + 1]) k++;
      const t = ((levels[k] + levels[k + 1]) / 2 - L0) / (L9 - L0);
      cells.push([xr[0] + i * cw, yr[0] + j * ch, xr[0] + (i + 1) * cw, yr[0] + (j + 1) * ch, t]);
    }
  }
  return cells;
}

function tickFormatter(ticks: number[]) {
  const dec = ticks.some((v) => Math.abs(v - Math.round(v)) > 1e-9) ? 1 : 0;
  return (v: number) => {
    const s = Math.abs(v).toFixed(dec);
    return v < -1e-9 ? "\u2212" + s : s;
  };
}

export default function App() {
  const ref = useRef<HTMLDivElement>(null);
  useEffect(() => {
    if (!ref.current) return;
    const chart = echarts.init(ref.current, null, { renderer: "svg", width: 960, height: 645 });
    const grids: any[] = [], xAxes: any[] = [], yAxes: any[] = [], series: any[] = [], graphics: any[] = [];
    for (let i = 0; i < 20; i++) {
      const row = Math.floor(i / 4), col = i % 4;
      const [left, width] = colBoxes[row][col];
      const top = rowTops[row];
      const height = panelHeight;
      grids.push({ left, top, width, height, containLabel: false, show: false });
      xAxes.push({
        type: "value", gridIndex: i, min: xLimits[i][0], max: xLimits[i][1], position: "bottom",
        axisLine: { show: false, onZero: false },
        splitLine: { show: false },
        axisTick: { show: true, length: 4, inside: false, customValues: xTicks[i], lineStyle: { color: "#000", width: 1 } },
        axisLabel: { show: true, customValues: xTicks[i], formatter: tickFormatter(xTicks[i]), color: "#000", fontSize: 15, fontFamily: FONT, margin: 7 },
      });
      yAxes.push({
        type: "value", gridIndex: i, min: yLimits[i][0], max: yLimits[i][1], position: "left",
        axisLine: { show: false, onZero: false },
        splitLine: { show: false },
        axisTick: { show: true, length: 4, inside: false, customValues: yTicks[i], lineStyle: { color: "#000", width: 1 } },
        axisLabel: { show: true, customValues: yTicks[i], formatter: tickFormatter(yTicks[i]), color: "#000", fontSize: 15, fontFamily: FONT, margin: 7 },
      });
      const pIdx = row * 2 + Math.floor(col / 2);
      if (col % 2 === 0) {
        series.push({
          type: "scatter", xAxisIndex: i, yAxisIndex: i, data: scatterPoints[pIdx],
          symbol: "circle", symbolSize: 7.5, itemStyle: { color: POINT_COLOR, borderWidth: 0 }, silent: true,
        });
      } else {
        const nx = Math.round(width / 1.5), ny = Math.round(height / 1.5);
        const cells = kdeCells(scatterPoints[pIdx], xLimits[i], yLimits[i], kdeSampleSizes[pIdx], nx, ny);
        series.push({
          type: "custom", xAxisIndex: i, yAxisIndex: i, data: cells, silent: true,
          renderItem: (_params: any, api: any) => {
            const p0 = api.coord([api.value(0), api.value(3)]);
            const p1 = api.coord([api.value(2), api.value(1)]);
            return {
              type: "rect",
              shape: { x: p0[0] - 0.3, y: p0[1] - 0.3, width: p1[0] - p0[0] + 0.6, height: p1[1] - p0[1] + 0.6 },
              style: { fill: colorAt(api.value(4)) },
            };
          },
        });
      }
      graphics.push({
        type: "rect", z: 100, silent: true,
        shape: { x: Math.round(left) + 0.5, y: Math.round(top) + 0.5, width: Math.round(width), height: Math.round(height) },
        style: { fill: "none", stroke: "#000", lineWidth: 1 },
      });
      graphics.push({
        type: "text", z: 100, silent: true, x: left + width / 2, y: top - 14.5,
        style: { text: titles[i], fill: "#000", fontSize: 15, fontFamily: FONT, align: "center", verticalAlign: "middle" },
      });
    }
    chart.setOption({ animation: false, backgroundColor: "#fff", grid: grids, xAxis: xAxes, yAxis: yAxes, series, graphic: graphics });
    return () => chart.dispose();
  }, []);
  return <div ref={ref} style={{ position: "fixed", left: 0, top: 0, width: 960, height: 645, background: "#fff" }} />;
}
